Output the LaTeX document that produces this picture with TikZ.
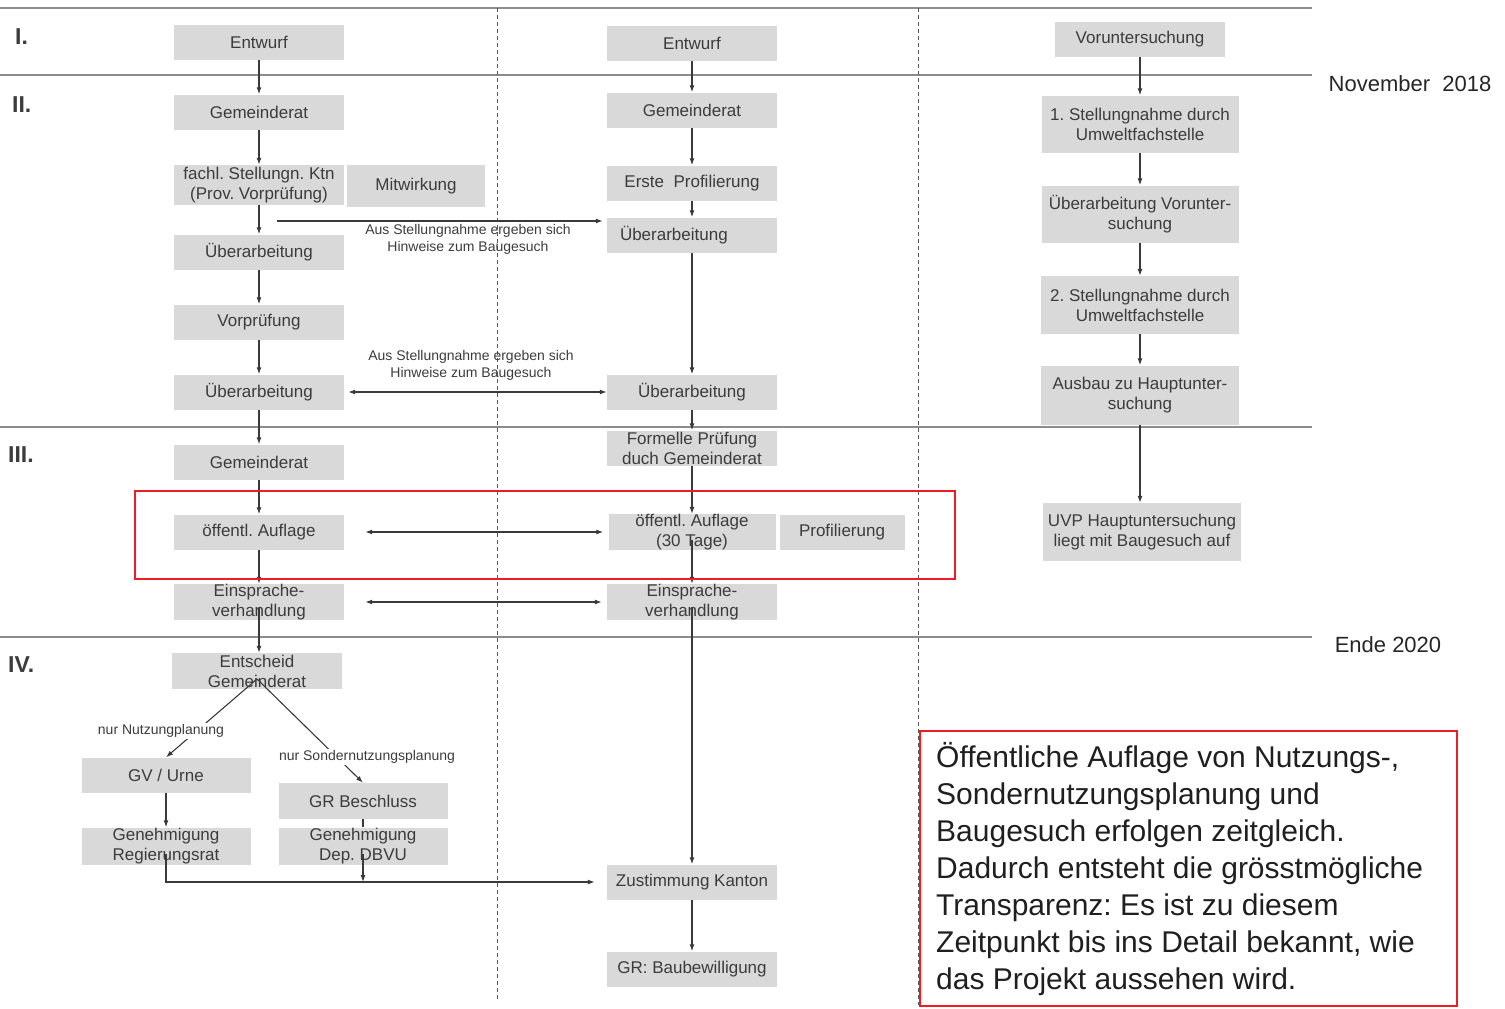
\documentclass[tikz,border=0pt]{standalone}
\usepackage{fontspec}
\setmainfont{Liberation Sans}
\usetikzlibrary{arrows.meta}
\definecolor{boxgray}{HTML}{D9D9D9}
\definecolor{txt}{HTML}{3C3C3C}
\definecolor{ln}{HTML}{3A3A3A}
\definecolor{rulec}{HTML}{8C8C8C}
\definecolor{redb}{HTML}{EE1C24}
\frenchspacing
\begin{document}
\begin{tikzpicture}[x=1pt,y=-1pt,
  box/.style={fill=boxgray, minimum width=170, minimum height=35, inner sep=0pt, text=txt, font=\fontsize{17}{20}\selectfont, align=center},
  arr/.style={draw=ln, line width=1.1pt, -{Latex[length=7pt,width=5pt]}},
  darr/.style={draw=ln, line width=1.1pt, {Latex[length=7pt,width=5pt]}-{Latex[length=7pt,width=5pt]}},
  plainln/.style={draw=ln, line width=1.1pt},
  small/.style={font=\fontsize{14}{17}\selectfont, text=txt, align=center, inner sep=1pt},
  sec/.style={font=\fontsize{23}{25}\selectfont\bfseries, text=txt, anchor=west, inner sep=0pt},
  datelbl/.style={font=\fontsize{22}{24}\selectfont, text=black!85, inner sep=0pt},
  rulel/.style={draw=rulec, line width=1.8pt},
  vdash/.style={draw=ln!85, line width=1pt, dash pattern=on 4pt off 3pt},
  redbox/.style={draw=redb, line width=2.5pt}]
\useasboundingbox (0,0) rectangle (1505,1009);

% horizontal rules
\draw[rulel] (0,8) -- (1312,8);
\draw[rulel] (0,75) -- (1312,75);
\draw[rulel] (0,427) -- (1312,427);
\draw[rulel] (0,637) -- (1312,637);
% dashed column separators
\draw[vdash] (497,8) -- (497,1000);
\draw[vdash] (918,8) -- (918,1005);

% section labels
\node[sec] (sI) at (15,37) {I.};
\node[sec] (sII) at (12,105) {II.};
\node[sec] (sIII) at (8,455) {III.};
\node[sec] (sIV) at (8,665) {IV.};
\node[datelbl] (nov) at (1410,84) {November\ \ 2018};
\node[datelbl] (ende) at (1388,645) {Ende 2020};

% column 1
\node[box] (e1) at (259,42) {Entwurf};
\node[box] (g1) at (259,112) {Gemeinderat};
\node[box, minimum height=40] (f1) at (259,185) {fachl. Stellungn. Ktn\\(Prov. Vorprüfung)};
\node[box, minimum width=138, minimum height=42] (mw) at (416,186) {Mitwirkung};
\node[box] (u1) at (259,252) {Überarbeitung};
\node[box] (v1) at (259,322) {Vorprüfung};
\node[box] (u2) at (259,392) {Überarbeitung};
\node[box] (g2) at (259,462) {Gemeinderat};
\node[box] (oa1) at (259,532) {öffentl. Auflage};
\node[box, minimum height=36] (es1) at (259,602) {Einsprache-\\verhandlung};
\node[box, minimum height=36] (ent) at (257,671) {Entscheid\\Gemeinderat};
\node[box, minimum width=169] (gv) at (166,775) {GV / Urne};
\node[box, minimum width=169, minimum height=37] (gr1) at (166,846) {Genehmigung\\Regierungsrat};
\node[box, minimum width=169, minimum height=36] (grb) at (363,801) {GR Beschluss};
\node[box, minimum width=169, minimum height=37] (gr2) at (363,846) {Genehmigung\\Dep. DBVU};

% column 2
\node[box] (e2) at (692,43) {Entwurf};
\node[box] (g3) at (692,110) {Gemeinderat};
\node[box] (ep) at (692,183) {Erste\ \ Profilierung};
\node[box, text width=144, align=left] (u3) at (692,235) {Überarbeitung};
\node[box] (u4) at (692,392) {Überarbeitung};
\node[box] (fp) at (692,448) {Formelle Prüfung\\duch Gemeinderat};
\node[box, minimum width=167] (oa2) at (692,532) {öffentl. Auflage\\(30 Tage)};
\node[box, minimum width=125] (pr) at (842,532) {Profilierung};
\node[box, minimum height=36] (es2) at (692,602) {Einsprache-\\verhandlung};
\node[box] (zk) at (692,882) {Zustimmung Kanton};
\node[box] (bb) at (692,969) {GR: Baubewilligung};

% column 3
\node[box] (vu) at (1140,39) {Voruntersuchung};
\node[box, minimum width=197, minimum height=57] (s1) at (1140,124) {1. Stellungnahme durch\\Umweltfachstelle};
\node[box, minimum width=197, minimum height=57] (uv) at (1140,214) {Überarbeitung Vorunter-\\suchung};
\node[box, minimum width=198, minimum height=58] (s2) at (1140,305) {2. Stellungnahme durch\\Umweltfachstelle};
\node[box, minimum width=198, minimum height=59] (ah) at (1140,395) {Ausbau zu Hauptunter-\\suchung};
\node[box, minimum width=198, minimum height=58] (uvp) at (1142,532) {UVP Hauptuntersuchung\\liegt mit Baugesuch auf};

% column 1 connectors
\draw[arr] (e1) -- (g1);
\draw[arr] (g1) -- (f1);
\draw[arr] (f1) -- (u1);
\draw[arr] (u1) -- (v1);
\draw[arr] (v1) -- (u2);
\draw[arr] (u2) -- (g2);
\draw[arr] (g2) -- (oa1);
\draw[arr] (oa1) -- (es1.north);
\draw[arr] ([yshift=-6pt]es1.center) -- (es1.center |- ent.north);
\draw[arr] ([yshift=-8pt]ent.center) -- (gv.north);
\draw[arr] ([yshift=-8pt]ent.center) -- (grb.north);
\node[small, fill=white] (ln1) at (161,731) {nur Nutzungplanung};
\node[small, fill=white] (ln2) at (367,757) {nur Sondernutzungsplanung};
\draw[arr] (gv) -- (gr1);
\draw[plainln] (grb) -- (gr2);
\draw[arr] ([yshift=-8pt]gr1.center) |- ([xshift=-12pt]zk.west);
\draw[arr] ([yshift=-8pt]gr2.center) -- (gr2.center |- zk.west);

% column 2 connectors
\draw[arr] (e2) -- (g3);
\draw[arr] (g3) -- (ep);
\draw[arr] (ep) -- (u3);
\draw[arr] (u3) -- (u4);
\draw[arr] (u4) -- (fp);
\draw[arr] (fp) -- (oa2);
\draw[arr] ([yshift=-8pt]oa2.center) -- (es2.north);
\draw[arr] ([yshift=-6pt]es2.center) -- (zk);
\draw[arr] (zk) -- (bb);

% column 3 connectors
\draw[arr] (vu) -- (s1);
\draw[arr] (s1) -- (uv);
\draw[arr] (uv) -- (s2);
\draw[arr] (s2) -- (ah);
\draw[arr] (ah.south) -- (ah.south |- uvp.north);

% cross connectors
\coordinate (h1s) at (277,221);
\draw[arr] (h1s) -- ([xshift=-4pt]u3.west |- h1s);
\node[small] (lb1) at (468,239) {Aus Stellungnahme ergeben sich\\Hinweise zum Baugesuch};
\draw[darr] ([xshift=4pt]u2.east) -- (u4.west);
\node[small] (lb2) at (471,365) {Aus Stellungnahme ergeben sich\\Hinweise zum Baugesuch};
\draw[darr] ([xshift=21pt]oa1.east) -- ([xshift=-5pt]oa2.west);
\draw[darr] ([xshift=21pt]es1.east) -- ([xshift=-5pt]es2.west);

% red highlights
\draw[redbox] (135,491) rectangle (955,579);
\draw[redbox] (920,731) rectangle (1457,1006);
\node[anchor=north west, inner sep=0pt, align=left, font=\fontsize{30}{37}\selectfont, text=black!88] (note) at (936,742)
 {Öffentliche Auflage von Nutzungs-,\\Sondernutzungsplanung und\\Baugesuch erfolgen zeitgleich.\\Dadurch entsteht die grösstmögliche\\Transparenz: Es ist zu diesem\\Zeitpunkt bis ins Detail bekannt, wie\\das Projekt aussehen wird.};
\end{tikzpicture}
\end{document}
